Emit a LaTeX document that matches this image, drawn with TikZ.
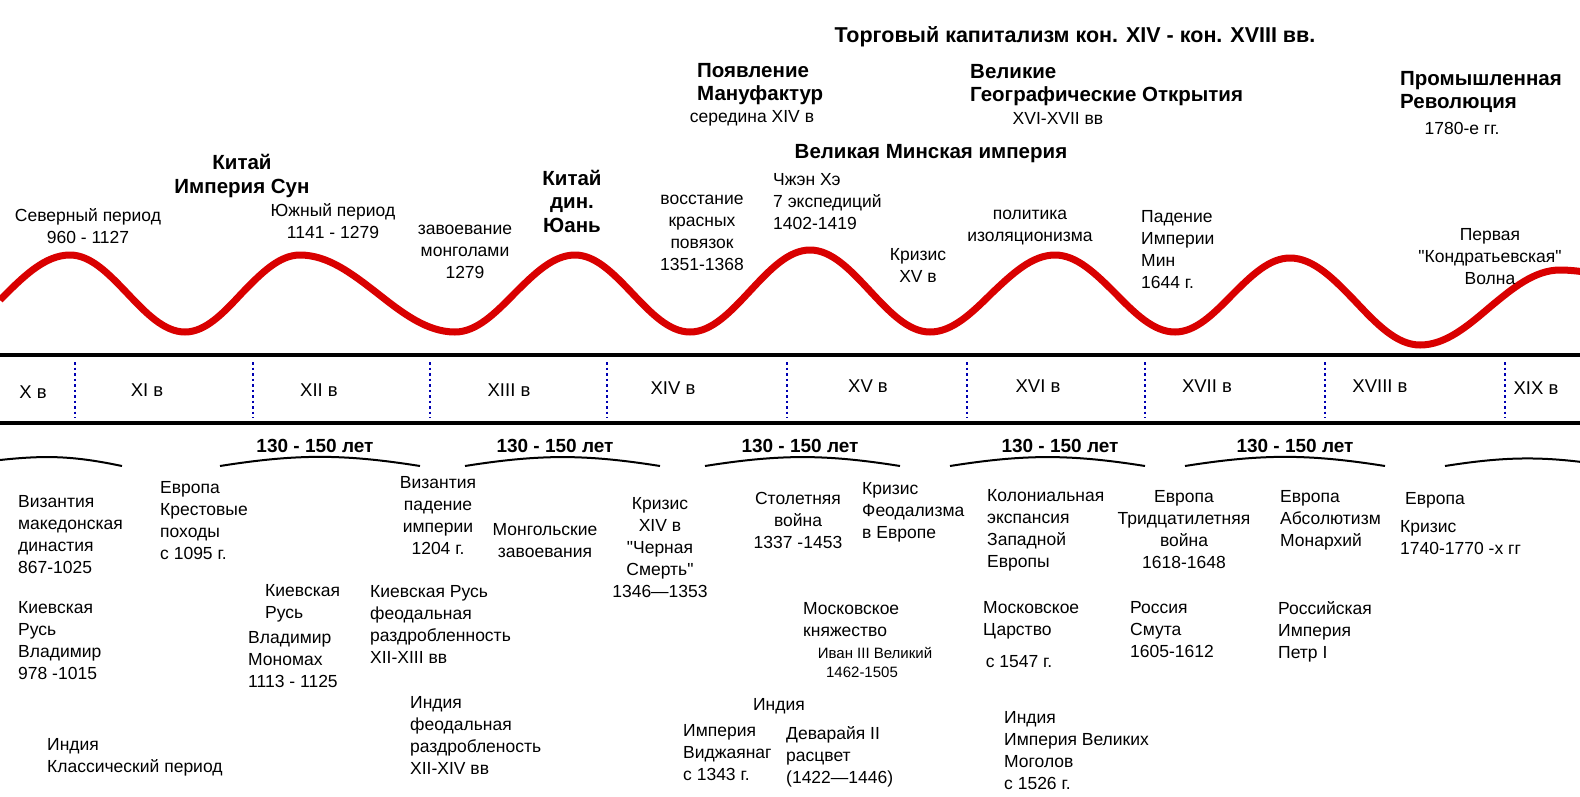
\documentclass[tikz,border=0pt]{standalone}
\usepackage{fontspec}
\setmainfont{Liberation Sans}
\newcommand{\qq}{\textquotedbl}
\begin{document}
\begin{tikzpicture}[x=1pt,y=-1pt,
  t/.style={inner sep=0pt,align=center,font=\fontsize{17.5}{22}\selectfont},
  tl/.style={t,align=left,anchor=west},
  b/.style={inner sep=0pt,align=center,font=\fontsize{20.5}{23.5}\selectfont\bfseries},
  bl/.style={b,align=left,anchor=west},
  sm/.style={inner sep=0pt,font=\fontsize{15}{18}\selectfont},
  cent/.style={inner sep=0pt,font=\fontsize{18.5}{20}\selectfont},
  sep/.style={blue!70!black,line width=2.5pt,dash pattern=on 2.5pt off 3pt},
  arc/.style={line width=2pt,bend left=9}]
\useasboundingbox[fill=white] (0,0) rectangle (1580,796);
% wave
\draw[red!85!black,line width=7pt] (0,300) sin (70,255) cos (127,293) sin (185,332) cos (242,293) sin (300,255)
 cos (377,293) sin (455,332) cos (515,293) sin (575,255) cos (632,293) sin (690,332) cos (750,291) sin (810,250)
 cos (870,291) sin (930,332) cos (992,293) sin (1055,255) cos (1115,293) sin (1175,332) cos (1232,295) sin (1290,258)
 cos (1355,301) sin (1420,345) cos (1490,307) sin (1560,270) cos (1585,272);
% band
\draw[line width=4pt] (0,355) -- (1580,355);
\draw[line width=4pt] (0,423) -- (1580,423);
\foreach \x in {75,253,430,607,787,967,1145,1325,1505}
  \draw[sep] (\x,362) -- (\x,418);
\node[cent] (c1) at (33,392) {X в};
\node[cent] (c2) at (147,390) {XI в};
\node[cent] (c3) at (319,390) {XII в};
\node[cent] (c4) at (509,390) {XIII в};
\node[cent] (c5) at (673,388) {XIV в};
\node[cent] (c6) at (868,386) {XV в};
\node[cent] (c7) at (1038,386) {XVI в};
\node[cent] (c8) at (1207,386) {XVII в};
\node[cent] (c9) at (1380,386) {XVIII в};
\node[cent] (c10) at (1536,388) {XIX в};
% arcs
\draw[arc] (0,460) to (122,466);
\draw[arc] (220,466) to (420,466);
\draw[arc] (465,466) to (660,466);
\draw[arc] (705,466) to (900,466);
\draw[arc] (950,466) to (1145,466);
\draw[arc] (1185,466) to (1385,466);
\draw[arc] (1445,466) to (1610,466);
\foreach \x/\n in {315/a1,555/a2,800/a3,1060/a4,1295/a5}
  \node[b,font=\fontsize{19}{20}\selectfont\bfseries] (\n) at (\x,446) {130 - 150 лет};
% top texts
\node[b,font=\fontsize{21.5}{24}\selectfont\bfseries] (tk) at (1075,37) {Торговый капитализм кон. XIV - кон. XVIII вв.};
\node[bl] (pm) at (697,84) {Появление\\Мануфактур};
\node[t] (pm2) at (752,118) {середина XIV в};
\node[bl] (vg) at (970,85) {Великие\\Географические Открытия};
\node[t] (vg2) at (1058,118) {XVI-XVII вв};
\node[bl] (pr) at (1400,92) {Промышленная\\Революция};
\node[t] (pr2) at (1462,128) {1780-е гг.};
\node[b] (vm) at (931,154) {Великая Минская империя};
\node[b] (ks) at (242,176) {Китай\\Империя Сун};
\node[t] (sp) at (88,226) {Северный период\\960 - 1127};
\node[t] (yp) at (333,221) {Южный период\\1141 - 1279};
\node[t] (zm) at (465,252) {завоевание\\монголами\\1279};
\node[b] (ky) at (572,201) {Китай\\дин.\\Юань};
\node[t] (vk) at (702,233) {восстание\\красных\\повязок\\1351-1368};
\node[tl] (ch) at (773,202) {Чжэн Хэ\\7 экспедиций\\1402-1419};
\node[t] (k15) at (918,265) {Кризис\\XV в};
\node[t] (pi) at (1030,228) {политика\\изоляционизма};
\node[tl] (pim) at (1141,250) {Падение\\Империи\\Мин\\1644 г.};
\node[t] (kw) at (1490,257) {Первая\\\qq Кондратьевская\qq\\Волна};
% bottom texts
\node[tl] (b1) at (18,535) {Византия\\македонская\\ династия\\867-1025};
\node[tl] (b2) at (18,641) {Киевская\\Русь\\Владимир\\ 978 -1015};
\node[tl] (b3) at (47,757) {Индия\\Классический период};
\node[tl] (b4) at (160,521) {Европа\\Крестовые\\походы\\с 1095 г.};
\node[tl] (b5) at (265,603) {Киевская\\Русь};
\node[tl] (b6) at (248,660) {Владимир\\Мономах\\1113 - 1125};
\node[t] (b7) at (438,516) {Византия\\падение\\империи\\1204 г.};
\node[tl] (b8) at (370,624) {Киевская Русь\\ феодальная\\раздробленность\\XII-XIII вв};
\node[tl] (b9) at (410,735) {Индия\\феодальная\\раздробленость\\ XII-XIV вв};
\node[t] (b10) at (545,541) {Монгольские\\завоевания};
\node[t] (b11) at (660,548) {Кризис\\XIV в\\\qq Черная\\Смерть\qq\\1346—1353};
\node[t] (b12) at (798,520) {Столетняя\\война\\1337 -1453};
\node[tl] (b13) at (862,512) {Кризис\\Феодализма\\в Европе};
\node[tl] (b14) at (803,620) {Московское\\княжество};
\node[sm] (b15) at (875,653) {Иван III Великий};
\node[sm] (b16) at (862,672) {1462-1505};
\node[t] (b17) at (779,706) {Индия};
\node[tl] (b18) at (683,753) {Империя\\Виджаянаг\\с 1343 г.};
\node[tl] (b19) at (786,757) {Деварайя II\\расцвет\\ (1422—1446)};
\node[tl] (b20) at (987,530) {Колониальная\\экспансия\\Западной\\Европы};
\node[tl] (b21) at (983,620) {Московское\\Царство};
\node[t] (b22) at (1019,662) {с 1547 г.};
\node[tl] (b23) at (1004,751) {Индия\\Империя Великих\\Моголов\\с 1526 г.};
\node[t] (b24) at (1184,530) {Европа\\Тридцатилетняя\\война\\1618-1648};
\node[tl] (b25) at (1130,630) {Россия\\Смута\\1605-1612};
\node[tl] (b26) at (1280,520) {Европа\\Абсолютизм\\Монархий};
\node[tl] (b27) at (1278,632) {Российская\\Империя\\Петр I};
\node[t] (b28) at (1435,500) {Европа};
\node[tl] (b29) at (1400,538) {Кризис\\1740-1770 -х гг};
\end{tikzpicture}
\end{document}
